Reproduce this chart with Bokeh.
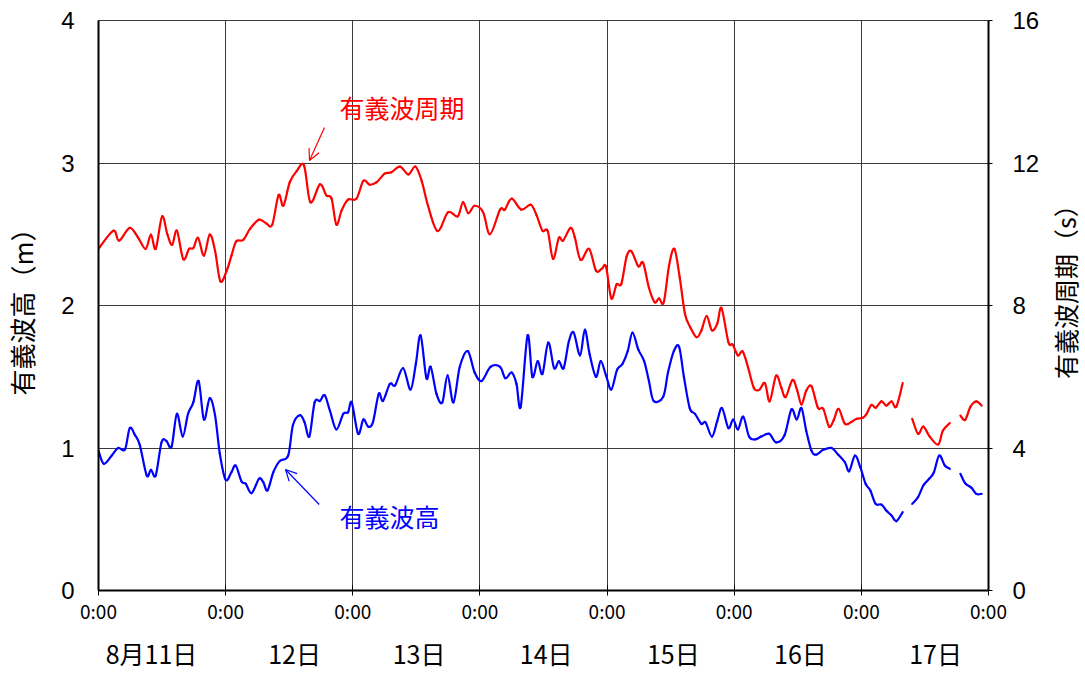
import math
from bokeh.plotting import figure
from bokeh.layouts import row
from bokeh.models import (Range1d, LinearAxis, FixedTicker, Label, Arrow, OpenHead, ColumnDataSource)
from bokeh.core.properties import value
from bokeh.embed import file_html
from bokeh.resources import INLINE

NaN = float("nan")

# ---- data (hours since 8/11 0:00) ----
period_hours = [0, 2.8, 3.9, 5.9, 7.5, 8.9, 9.9, 10.8, 12.0, 13.0, 13.9, 14.8, 16.0, 17.1, 17.9, 18.8,
                19.9, 21.0, 22.0, 23.0, 24.2, 25.1, 26.0, 27.3, 28.6, 30.3, 31.7, 32.8, 34.0, 34.9,
                36.1, 37.4, 38.8, 40.0, 41.8, 43.0, 44.0, 44.9, 45.9, 47.1, 48.7, 50.0, 51.2, 52.5,
                54.0, 55.3, 56.9, 58.5, 59.8, 61.0, 62.2, 64.0, 66.0, 67.8, 68.8, 69.8, 71.0, 72.6,
                73.9, 75.8, 76.7, 78.0, 79.8, 81.6, 82.7, 83.8, 84.8, 85.8, 86.9, 87.7, 89.1, 89.9,
                91.0, 92.6, 93.9, 95.0, 95.8, 96.8, 97.8, 98.7, 99.7, 100.6, 101.9, 102.8, 103.9,
                105.0, 105.8, 106.7, 107.7, 108.7, 109.7, 110.7, 111.7, 112.9, 113.8, 114.8, 115.8,
                116.8, 117.6, 118.9, 119.7, 120.7, 121.6, 122.6, 123.7, 124.7, 125.8, 126.7, 127.9,
                128.9, 129.7, 131.0, 131.9, 132.7, 133.6, 134.6, 135.8, 136.8, 137.9, 138.8, 139.7,
                140.9, 142.1, 143.1, 144.3, 145.0, 145.9, 146.7, 147.8, 148.7, 149.7, 150.6, 151.8,
                152.7, 153.6, 154.7, 155.7, 156.9, 158.5, 159.4, 160.7, 161.7, 162.7, 163.6, 164.6,
                165.7, 166.7]
period_s = [9.59, 10.1, 9.82, 10.18, 9.9, 9.59, 9.99, 9.59, 10.5, 10.0, 9.7, 10.1, 9.3, 9.59, 9.61, 9.9,
            9.4, 9.99, 9.54, 8.68, 8.98, 9.4, 9.8, 9.84, 10.15, 10.41, 10.3, 10.27, 11.1, 10.8,
            11.46, 11.77, 11.93, 10.9, 11.4, 11.09, 11.0, 10.27, 10.67, 10.97, 11.0, 11.5, 11.39, 11.46,
            11.7, 11.74, 11.9, 11.68, 11.9, 11.5, 10.8, 10.09, 10.62, 10.5, 10.9, 10.59, 10.8, 10.62,
            10.0, 10.69, 10.69, 11.0, 10.69, 10.83, 10.53, 10.1, 10.09, 9.31, 9.9, 9.82, 10.18, 9.92,
            9.28, 9.59, 8.98, 9.03, 9.09, 8.2, 8.59, 8.61, 9.38, 9.52, 9.1, 9.2, 8.5,
            8.09, 8.2, 8.09, 9.12, 9.59, 8.8, 7.77, 7.39, 7.11, 7.3, 7.7, 7.3,
            7.49, 7.93, 6.97, 6.9, 6.6, 6.71, 6.27, 5.69, 5.63, 5.82, 5.31, 6.03,
            5.69, 5.43, 5.91, 5.61, 5.22, 5.61, 5.73, 5.13, 5.1, 4.6, 4.79, 5.1,
            4.68, 4.73, 4.82, 4.85, 4.96, 5.21, 5.13, 5.31, 5.19, 5.31, 5.16, 5.82,
            NaN, 4.82, 4.4, 4.6, 4.32, 4.1, 4.49, 4.7, NaN, 4.91, 4.79, 5.16,
            5.31, 5.19]

height_hours = [0, 1.0, 2.5, 3.7, 5.0, 5.9, 6.9, 7.8, 9.1, 9.9, 10.8, 11.9, 12.8, 13.8, 14.8, 15.9,
                16.9, 17.9, 18.9, 19.9, 21.0, 22.0, 22.9, 24.0, 25.1, 25.9, 27.0, 27.8, 28.9, 30.3,
                31.1, 31.9, 33.0, 34.2, 35.8, 36.7, 38.0, 38.9, 39.8, 40.8, 41.8, 42.7, 43.7, 44.9,
                46.2, 47.1, 47.8, 49.0, 50.0, 50.9, 51.8, 52.9, 53.7, 55.0, 56.0, 57.5, 58.9, 59.9,
                60.8, 61.9, 62.7, 63.8, 64.9, 65.9, 67.0, 68.2, 69.7, 71.0, 72.3, 74.0, 75.8, 76.8,
                78.0, 78.9, 79.7, 81.0, 81.9, 82.9, 83.8, 84.9, 86.0, 86.9, 87.8, 88.8, 89.7, 90.9,
                91.8, 92.7, 93.9, 94.8, 95.8, 96.8, 97.9, 98.9, 99.9, 100.8, 101.9, 103.0, 103.9,
                104.8, 106.6, 107.5, 108.6, 109.6, 110.5, 111.6, 112.6, 113.8, 114.6, 115.8, 116.8,
                117.7, 118.9, 119.8, 120.7, 121.7, 122.8, 123.9, 125.1, 126.6, 127.9, 129.5, 130.8,
                131.8, 132.7, 133.6, 134.6, 135.5, 136.8, 138.4, 139.6, 140.9, 141.7, 142.8, 143.8,
                144.8, 145.7, 146.7, 147.8, 148.7, 149.7, 150.6, 151.8, 152.7, 153.6, 154.7, 155.7,
                156.8, 157.7, 158.7, 159.75, 160.7, 161.7, 162.7, 163.6, 164.8, 165.7, 166.7]
height_m = [0.98, 0.889, 0.947, 1.0, 0.99, 1.14, 1.09, 1.02, 0.807, 0.847, 0.807, 1.04, 1.05, 1.01, 1.24, 1.08,
            1.24, 1.32, 1.47, 1.2, 1.35, 1.23, 0.96, 0.777, 0.83, 0.877, 0.765, 0.749, 0.683, 0.784,
            0.76, 0.702, 0.83, 0.908, 0.947, 1.16, 1.23, 1.18, 1.08, 1.32, 1.33, 1.37, 1.26, 1.13,
            1.24, 1.25, 1.32, 1.1, 1.2, 1.15, 1.18, 1.38, 1.33, 1.45, 1.44, 1.56, 1.41, 1.59,
            1.79, 1.49, 1.57, 1.38, 1.32, 1.51, 1.32, 1.57, 1.68, 1.53, 1.47, 1.57, 1.57, 1.49,
            1.53, 1.45, 1.29, 1.79, 1.5, 1.61, 1.52, 1.74, 1.56, 1.61, 1.56, 1.75, 1.81, 1.65,
            1.83, 1.66, 1.5, 1.61, 1.51, 1.41, 1.55, 1.59, 1.68, 1.81, 1.69, 1.61, 1.47,
            1.33, 1.36, 1.53, 1.68, 1.71, 1.5, 1.28, 1.24, 1.17, 1.18, 1.08, 1.19,
            1.28, 1.14, 1.2, 1.13, 1.22, 1.08, 1.06, 1.08, 1.1, 1.04, 1.09, 1.27,
            1.2, 1.28, 1.12, 0.98, 0.954, 0.987, 1.0, 0.954, 0.9, 0.837, 0.947, 0.865,
            0.749, 0.702, 0.608, 0.603, 0.561, 0.526, 0.487, 0.55, NaN, 0.608, 0.655, 0.737,
            0.784, 0.83, 0.947, 0.877, 0.854, NaN, 0.819, 0.753, 0.72, 0.678, 0.678]

day_ticks = [0, 24, 48, 72, 96, 120, 144, 168]
day_tick_labels = ["0:00"] * 8
date_positions = [10, 37, 60.5, 84.5, 108.5, 132.5, 158]
date_labels = ["8月11日", "12日", "13日", "14日", "15日", "16日", "17日"]
height_ticks = [0, 1, 2, 3, 4]
period_ticks = [0, 4, 8, 12, 16]
left_title = "有義波高（m）"
right_title = "有義波周期（s）"

CJK = "Noto Sans CJK JP"
NUM = "Liberation Sans"
GRID = "#3a3a3a"


def smooth_source(xs, ys):
    """Cubic Bezier pieces through the read points (Excel-style smoothed line)."""
    runs, cur = [], []
    for x, y in zip(xs, ys):
        if y != y:  # NaN -> gap
            if cur:
                runs.append(cur)
            cur = []
        else:
            cur.append((x, y))
    if cur:
        runs.append(cur)
    d = {k: [] for k in ("x0", "y0", "x1", "y1", "cx0", "cy0", "cx1", "cy1")}
    for r in runs:
        n = len(r)
        for i in range(n - 1):
            p0 = r[i - 1] if i > 0 else r[i]
            p1, p2 = r[i], r[i + 1]
            p3 = r[i + 2] if i + 2 < n else r[i + 1]
            d["x0"].append(p1[0]); d["y0"].append(p1[1])
            d["x1"].append(p2[0]); d["y1"].append(p2[1])
            d["cx0"].append(p1[0] + (p2[0] - p0[0]) / 6.0)
            d["cy0"].append(p1[1] + (p2[1] - p0[1]) / 6.0)
            d["cx1"].append(p2[0] - (p3[0] - p1[0]) / 6.0)
            d["cy1"].append(p2[1] - (p3[1] - p1[1]) / 6.0)
    return ColumnDataSource(d)


p = figure(frame_width=890, frame_height=570, x_range=Range1d(0, 168), y_range=Range1d(0, 4),
           output_backend="svg", toolbar_location=None,
           min_border_left=89, min_border_right=60, min_border_top=20, min_border_bottom=78)
p.extra_y_ranges = {"period": Range1d(0, 16)}
p.background_fill_color = "white"
p.border_fill_color = "white"
p.outline_line_color = GRID
p.outline_line_width = 1

# grids
p.xgrid.ticker = FixedTicker(ticks=day_ticks)
p.ygrid.ticker = FixedTicker(ticks=height_ticks)
for g in (p.xgrid, p.ygrid):
    g.grid_line_color = GRID
    g.grid_line_width = 1

# bottom axis (times)
xa = p.xaxis[0]
xa.ticker = FixedTicker(ticks=day_ticks)
xa.major_label_overrides = {t: l for t, l in zip(day_ticks, day_tick_labels)}
xa.major_label_text_font = CJK
xa.major_label_text_font_size = "19px"
xa.major_label_text_color = "black"
xa.axis_line_color = "black"
xa.axis_line_width = 2
xa.major_tick_in = 5
xa.major_tick_out = 5
xa.major_tick_line_color = "black"
xa.minor_tick_line_color = None
xa.major_label_standoff = 1

# second bottom axis with dates
xa2 = LinearAxis(ticker=FixedTicker(ticks=date_positions),
                 major_label_overrides={t: l for t, l in zip(date_positions, date_labels)})
xa2.axis_line_color = None
xa2.major_tick_line_color = None
xa2.minor_tick_line_color = None
xa2.major_tick_out = 0
xa2.major_tick_in = 0
xa2.major_label_text_font = CJK
xa2.major_label_text_font_size = "25px"
xa2.major_label_text_color = "black"
xa2.major_label_standoff = 8
p.add_layout(xa2, "below")

# left axis
ya = p.yaxis[0]
ya.ticker = FixedTicker(ticks=height_ticks)
ya.axis_label = left_title
ya.axis_label_text_font = CJK
ya.axis_label_text_font_style = "normal"
ya.axis_label_text_font_size = "26px"
ya.axis_label_text_color = "black"
ya.axis_label_standoff = 18
ya.major_label_text_font = NUM
ya.major_label_text_font_size = "24px"
ya.major_label_text_color = "black"
ya.major_label_standoff = 24
ya.axis_line_color = "black"
ya.axis_line_width = 2
ya.major_tick_out = 0
ya.major_tick_in = 0
ya.minor_tick_line_color = None

# right axis (ticks only; its title is drawn in the narrow strip to the right)
yr = LinearAxis(y_range_name="period", ticker=FixedTicker(ticks=period_ticks))
yr.major_label_text_font = NUM
yr.major_label_text_font_size = "24px"
yr.major_label_text_color = "black"
yr.major_label_standoff = 20
yr.axis_line_color = "black"
yr.axis_line_width = 2
yr.major_tick_out = 4
yr.major_tick_in = 0
yr.major_tick_line_color = "black"
yr.minor_tick_line_color = None
p.add_layout(yr, "right")

# series (smoothed lines through the read points)
p.bezier(x0="x0", y0="y0", x1="x1", y1="y1", cx0="cx0", cy0="cy0", cx1="cx1", cy1="cy1",
         source=smooth_source(period_hours, period_s), y_range_name="period",
         line_color="#ff0000", line_width=2.2, line_cap="round")
p.bezier(x0="x0", y0="y0", x1="x1", y1="y1", cx0="cx0", cy0="cy0", cx1="cx1", cy1="cy1",
         source=smooth_source(height_hours, height_m),
         line_color="#0000ff", line_width=2.2, line_cap="round")

# annotations
p.add_layout(Label(x=45.5, y=3.39, text="有義波周期", text_font=CJK, text_font_size="25px",
                   text_color="#ff0000", text_baseline="middle", text_align="left"))
p.add_layout(Label(x=45.5, y=0.526, text="有義波高", text_font=CJK, text_font_size="25px",
                   text_color="#0000ff", text_baseline="middle", text_align="left"))
p.add_layout(Arrow(end=OpenHead(size=11, line_color="#ff0000", line_width=1.2),
                   x_start=42.66, y_start=3.249, x_end=39.83, y_end=3.018,
                   line_color="#ff0000", line_width=1.2))
p.add_layout(Arrow(end=OpenHead(size=11, line_color="#0000ff", line_width=1.2),
                   x_start=41.66, y_start=0.6035, x_end=35.3, y_end=0.849,
                   line_color="#0000ff", line_width=1.2))

# narrow strip carrying the right-hand axis title (reads bottom-to-top); it shares the
# height range of the main plot so the title sits at the same height as in the reference
strip = figure(width=36, height=673, x_range=Range1d(0, 1), y_range=p.y_range,
               x_axis_location=None, y_axis_location=None, output_backend="svg",
               toolbar_location=None, min_border_left=0, min_border_right=0,
               min_border_top=20, min_border_bottom=83)
strip.grid.visible = False
strip.outline_line_color = None
strip.background_fill_color = "white"
strip.border_fill_color = "white"
strip.text(x=[0.45], y=[2.14], text=[right_title], angle=math.pi / 2,
           text_align="center", text_baseline="middle", text_font=value(CJK),
           text_font_size="25px", text_color="black")

open("out.html", "w").write(file_html(row(p, strip), INLINE))
